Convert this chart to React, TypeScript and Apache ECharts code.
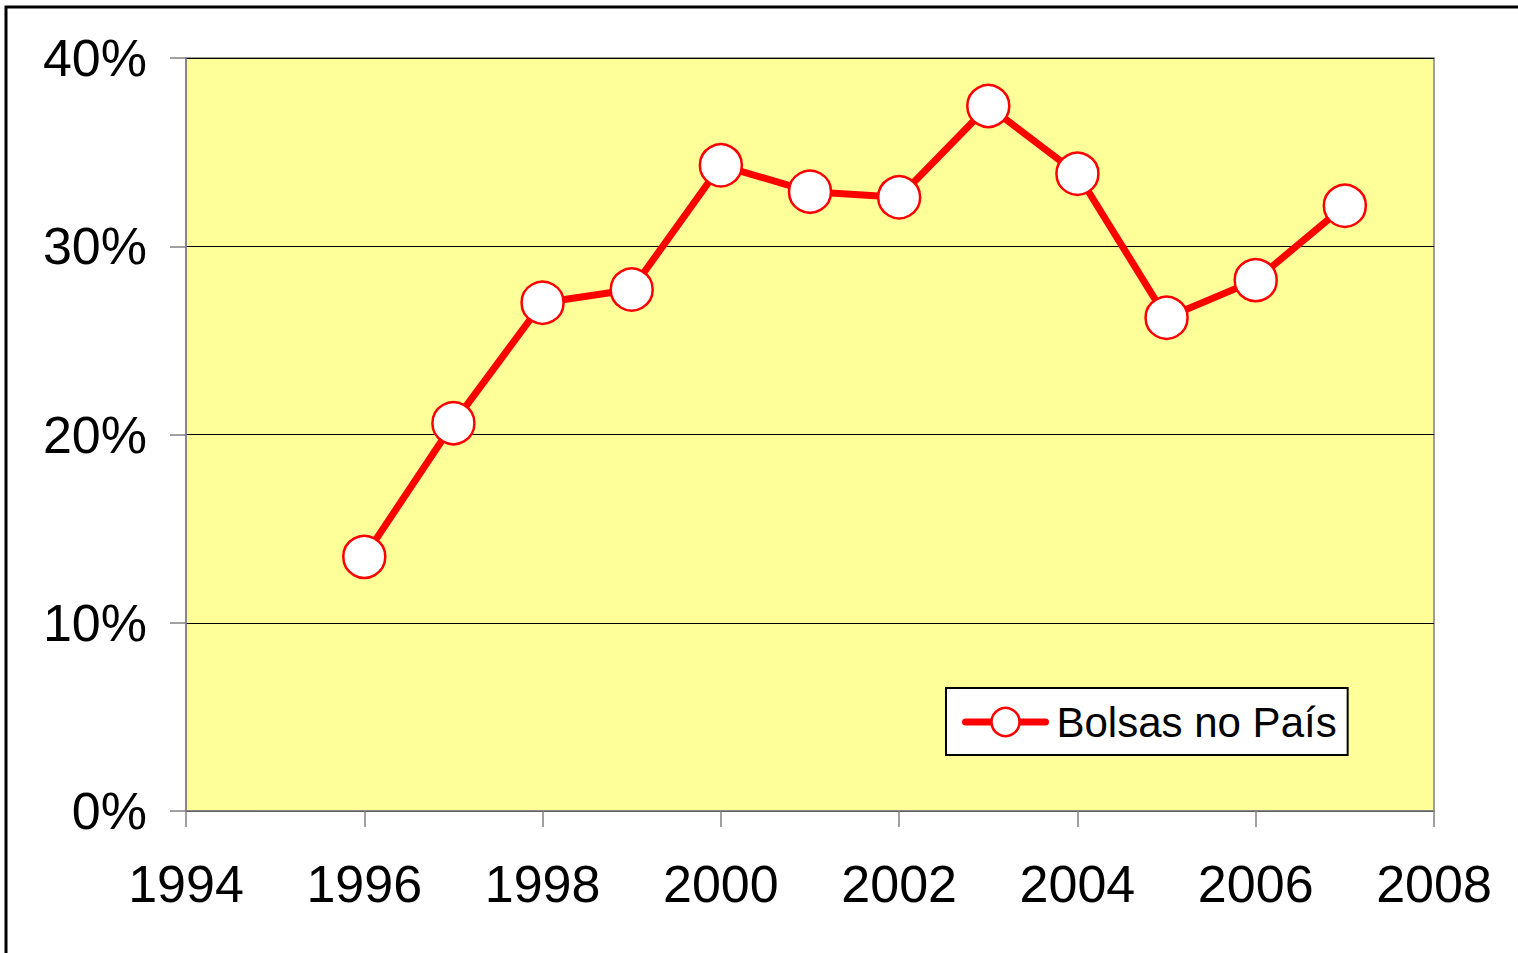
import React, { useEffect, useRef } from "react";
import * as echarts from "echarts";

const years = [1996, 1997, 1998, 1999, 2000, 2001, 2002, 2003, 2004, 2005, 2006, 2007];
const shares = [13.5, 20.6, 27.0, 27.7, 34.3, 32.9, 32.6, 37.45, 33.85, 26.2, 28.2, 32.15];
const seriesName = "Bolsas no País";

export default function App() {
  const ref = useRef<HTMLDivElement>(null);
  useEffect(() => {
    if (!ref.current) return;
    const chart = echarts.init(ref.current, null, { renderer: "svg" });
    const font = "'Liberation Sans', Arial, sans-serif";
    chart.setOption({
      animation: false,
      backgroundColor: "#ffffff",
      graphic: [
        {
          type: "rect",
          shape: { x: 6, y: 7, width: 1600, height: 1100 },
          style: { fill: "none", stroke: "#000000", lineWidth: 3 },
          silent: true,
        },
      ],
      grid: {
        left: 186,
        top: 58,
        right: 84,
        bottom: 142,
        show: true,
        backgroundColor: "#FFFF99",
        borderColor: "#808080",
        borderWidth: 1.5,
      },
      legend: {
        data: [seriesName],
        left: 946,
        top: 688,
        padding: [13, 11, 12, 16],
        itemWidth: 80,
        itemHeight: 35,
        itemGap: 0,
        backgroundColor: "#ffffff",
        borderColor: "#000000",
        borderWidth: 2,
        lineStyle: { width: 7, color: "#FF0000", cap: "round" },
        itemStyle: { color: "#FFFFFF", borderColor: "#FF0000", borderWidth: 2.5 },
        textStyle: { fontFamily: font, fontSize: 42, color: "#000000", padding: [0, 0, 0, 6] },
      },
      xAxis: {
        type: "value",
        min: 1994,
        max: 2008,
        interval: 2,
        axisLine: { show: true, lineStyle: { color: "#808080", width: 1.5 } },
        axisTick: { show: true, length: 16, inside: false, lineStyle: { color: "#808080", width: 1.5 } },
        splitLine: { show: false },
        axisLabel: {
          fontFamily: font,
          fontSize: 52,
          color: "#000000",
          margin: 47,
          formatter: (v: number) => String(v),
        },
      },
      yAxis: {
        type: "value",
        min: 0,
        max: 40,
        interval: 10,
        axisLine: { show: true, lineStyle: { color: "#808080", width: 1.5 } },
        axisTick: { show: true, length: 16, lineStyle: { color: "#808080", width: 1.5 } },
        splitLine: { show: true, lineStyle: { color: "#000000", width: 1 } },
        axisLabel: { fontFamily: font, fontSize: 52, color: "#000000", margin: 39, formatter: "{value}%" },
      },
      series: [
        {
          name: seriesName,
          type: "line",
          data: years.map((y, i) => [y, shares[i]]),
          symbol: "circle",
          symbolSize: 42,
          showAllSymbol: true,
          lineStyle: { color: "#FF0000", width: 7, cap: "round", join: "round" },
          itemStyle: { color: "#FFFFFF", borderColor: "#FF0000", borderWidth: 2.5 },
          z: 3,
        },
      ],
    });
    return () => chart.dispose();
  }, []);
  return (
    <div
      ref={ref}
      style={{ position: "fixed", left: 0, top: 0, width: 1518, height: 953 }}
    />
  );
}
